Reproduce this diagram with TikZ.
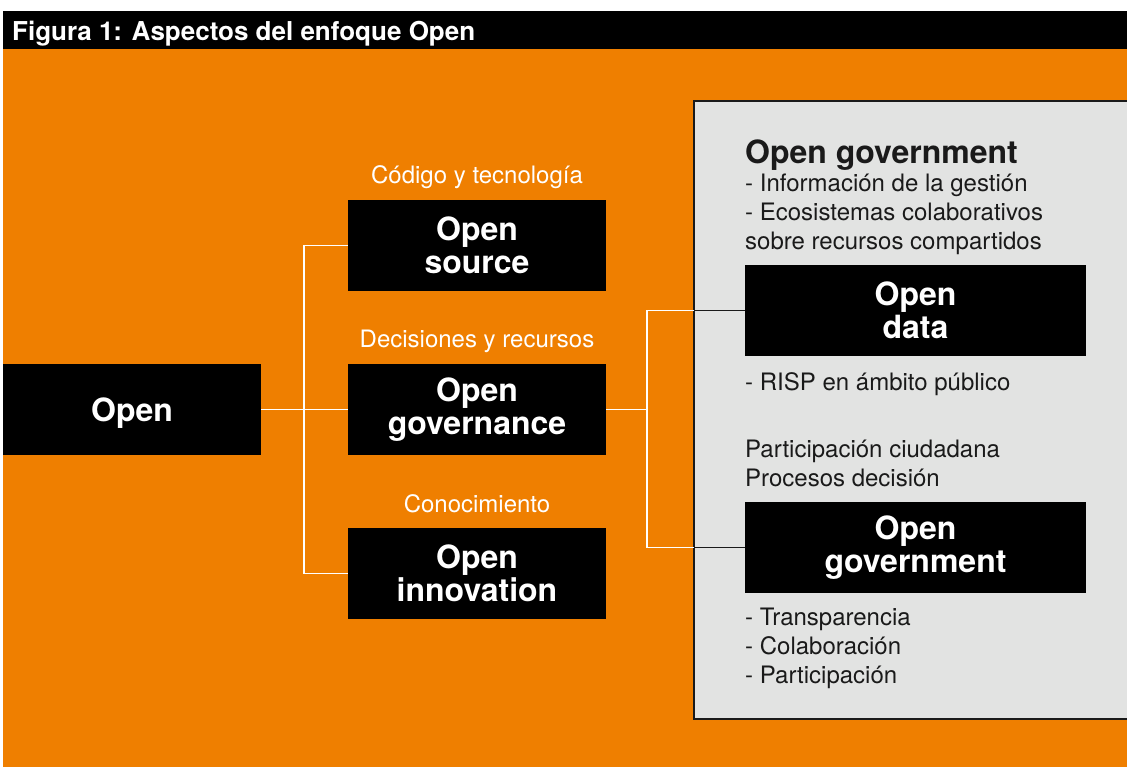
\documentclass[tikz,border=0pt]{standalone}
\usepackage{fontspec}
\setmainfont{TeX Gyre Heros}
\definecolor{orng}{HTML}{EF7F00}
\definecolor{panel}{HTML}{E2E3E2}
\definecolor{ink}{HTML}{1A1A1A}
\begin{document}
\begin{tikzpicture}[x=1pt,y=-1pt,
  blk/.style={fill=black,text=white,font=\bfseries\fontsize{32}{33}\selectfont,
    minimum width=258pt,minimum height=91pt,inner sep=0pt,align=center},
  wide/.style={blk,minimum width=341pt},
  lbl/.style={text=white,font=\fontsize{24}{29}\selectfont,anchor=base,inner sep=0pt},
  ptxt/.style={text=ink,font=\fontsize{24}{29}\selectfont,anchor=base west,inner sep=0pt},
  wl/.style={draw=white,line width=1.2pt},
  dl/.style={draw=ink,line width=1.2pt}]
\useasboundingbox (0,0) rectangle (1127,767);
\clip (0,0) rectangle (1127,767);
\fill[white] (0,0) rectangle (1127,767);
\fill[black] (3,11) rectangle (1127,49);
\fill[orng] (3,49) rectangle (1127,767);
\node[anchor=base west,text=white,inner sep=0pt,font=\bfseries\fontsize{26}{28}\selectfont] (title) at (12,41) {Figura 1: Aspectos del enfoque Open};
% panel
\draw[draw=ink,line width=2pt,fill=panel] (694,101) rectangle (1140,719);
% left boxes
\node[blk,text depth=0pt] (open) at (132,409.5) {Open};
\node[blk] (src) at (477,245.5) {Open\\source};
\node[blk] (gov) at (477,409.5) {Open\\governance};
\node[blk] (inn) at (477,573.5) {Open\\innovation};
\node[lbl] (lsrc) at (477,184) {Código y tecnología};
\node[lbl] (lgov) at (477,348) {Decisiones y recursos};
\node[lbl] (linn) at (477,512) {Conocimiento};
% right boxes
\node[wide] (data) at (915.5,310.5) {Open\\data};
\node[wide] (gvt) at (915.5,547.5) {Open\\government};
% panel texts
\node[ptxt,font=\bfseries\fontsize{32}{33}\selectfont] (ptitle) at (745,164) {Open government};
\node[ptxt] (p1) at (745,191.5) {- Información de la gestión};
\node[ptxt] (p2) at (745,220.5) {- Ecosistemas colaborativos};
\node[ptxt] (p3) at (745,249.5) {sobre recursos compartidos};
\node[ptxt] (p4) at (745,390) {- RISP en ámbito público};
\node[ptxt] (p5) at (745,457) {Participación ciudadana};
\node[ptxt] (p6) at (745,486) {Procesos decisión};
\node[ptxt] (p7) at (745,625) {- Transparencia};
\node[ptxt] (p8) at (745,654) {- Colaboración};
\node[ptxt] (p9) at (745,683) {- Participación};
% connectors
\coordinate (j1) at (304,409.5);
\coordinate (j2) at (647,409.5);
\coordinate (b1) at (694,310.5);
\coordinate (b2) at (694,547.5);
\draw[wl] (open.east) -- (gov.west);
\draw[wl] (src.west) -| (j1) |- (inn.west);
\draw[wl] (gov.east) -- (j2);
\draw[wl] (b1) -| (j2) |- (b2);
\draw[dl] (b1) -- (data.west);
\draw[dl] (b2) -- (gvt.west);
\end{tikzpicture}
\end{document}
